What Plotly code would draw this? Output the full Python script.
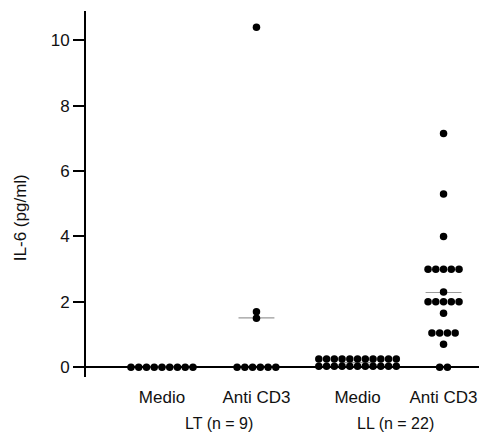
import plotly.graph_objects as go
import numpy as np

# ---- data ----
conditions = ["Medio", "Anti CD3", "Medio", "Anti CD3"]
group_labels = ["LT (n = 9)", "LL (n = 22)"]
lt_medio = [0, 0, 0, 0, 0, 0, 0, 0, 0]
lt_anti_cd3 = [0, 0, 0, 0, 0, 0, 1.5, 1.7, 10.4]
ll_medio = [0.03, 0.03, 0.03, 0.03, 0.03, 0.03, 0.03, 0.03, 0.03, 0.03, 0.03,
            0.25, 0.25, 0.25, 0.25, 0.25, 0.25, 0.25, 0.25, 0.25, 0.25, 0.25]
ll_anti_cd3 = [0, 0, 0.7, 1.05, 1.05, 1.05, 1.05, 1.65, 2.0, 2.0, 2.0, 2.0, 2.0,
               2.3, 3.0, 3.0, 3.0, 3.0, 3.0, 4.0, 5.3, 7.15]
y_tick_values = [0, 2, 4, 6, 8, 10]

series = [lt_medio, lt_anti_cd3, ll_medio, ll_anti_cd3]
positions = [0, 1, 2.07, 2.98]
spacing = 0.082

fig = go.Figure()

for pos, vals in zip(positions, series):
    vals = np.array(vals, dtype=float)
    xs = np.zeros(len(vals))
    for v in np.unique(vals):
        idx = np.where(vals == v)[0]
        n = len(idx)
        xs[idx] = pos + (np.arange(n) - (n - 1) / 2) * spacing
    m = vals.mean()
    fig.add_trace(go.Scatter(x=[pos - 0.19, pos + 0.19], y=[m, m], mode="lines",
                             line=dict(color="#9a9a9a", width=1.2),
                             showlegend=False, hoverinfo="skip"))
    fig.add_trace(go.Scatter(x=xs, y=vals, mode="markers",
                             marker=dict(color="black", size=7.5),
                             showlegend=False))

fig.add_annotation(x=(positions[0] + positions[1]) / 2 + 0.1, y=0, xref="x", yref="paper",
                   yanchor="middle", yshift=-46, text=group_labels[0], showarrow=False,
                   font=dict(size=16, color="#111"))
fig.add_annotation(x=(positions[2] + positions[3]) / 2 - 0.05, y=0, xref="x", yref="paper",
                   yanchor="middle", yshift=-46, text=group_labels[1], showarrow=False,
                   font=dict(size=16, color="#111"))
fig.add_annotation(x=0, y=0.434, xref="paper", yref="paper", xanchor="center",
                   xshift=-66, text="IL-6 (pg/ml)", textangle=-90, showarrow=False,
                   font=dict(size=17, color="#111"))

fig.update_layout(
    width=479, height=428,
    margin=dict(l=78, r=0, t=3, b=59),
    paper_bgcolor="white", plot_bgcolor="white",
    font=dict(family="Liberation Sans, Arial, sans-serif", color="#111", size=17),
    xaxis=dict(range=[-0.804, 3.44], tickvals=positions, ticktext=conditions,
               showgrid=False, zeroline=False, showline=False, ticks="",
               ticklabelstandoff=8, tickfont=dict(size=17)),
    yaxis=dict(range=[-0.3, 10.9], tickvals=y_tick_values, showgrid=False,
               zeroline=True, zerolinecolor="black", zerolinewidth=1.5,
               showline=True, linecolor="black", linewidth=2,
               ticks="outside", ticklen=11, tickwidth=2, tickcolor="black",
               tickfont=dict(size=17)),
)

fig.write_html("out.html")
